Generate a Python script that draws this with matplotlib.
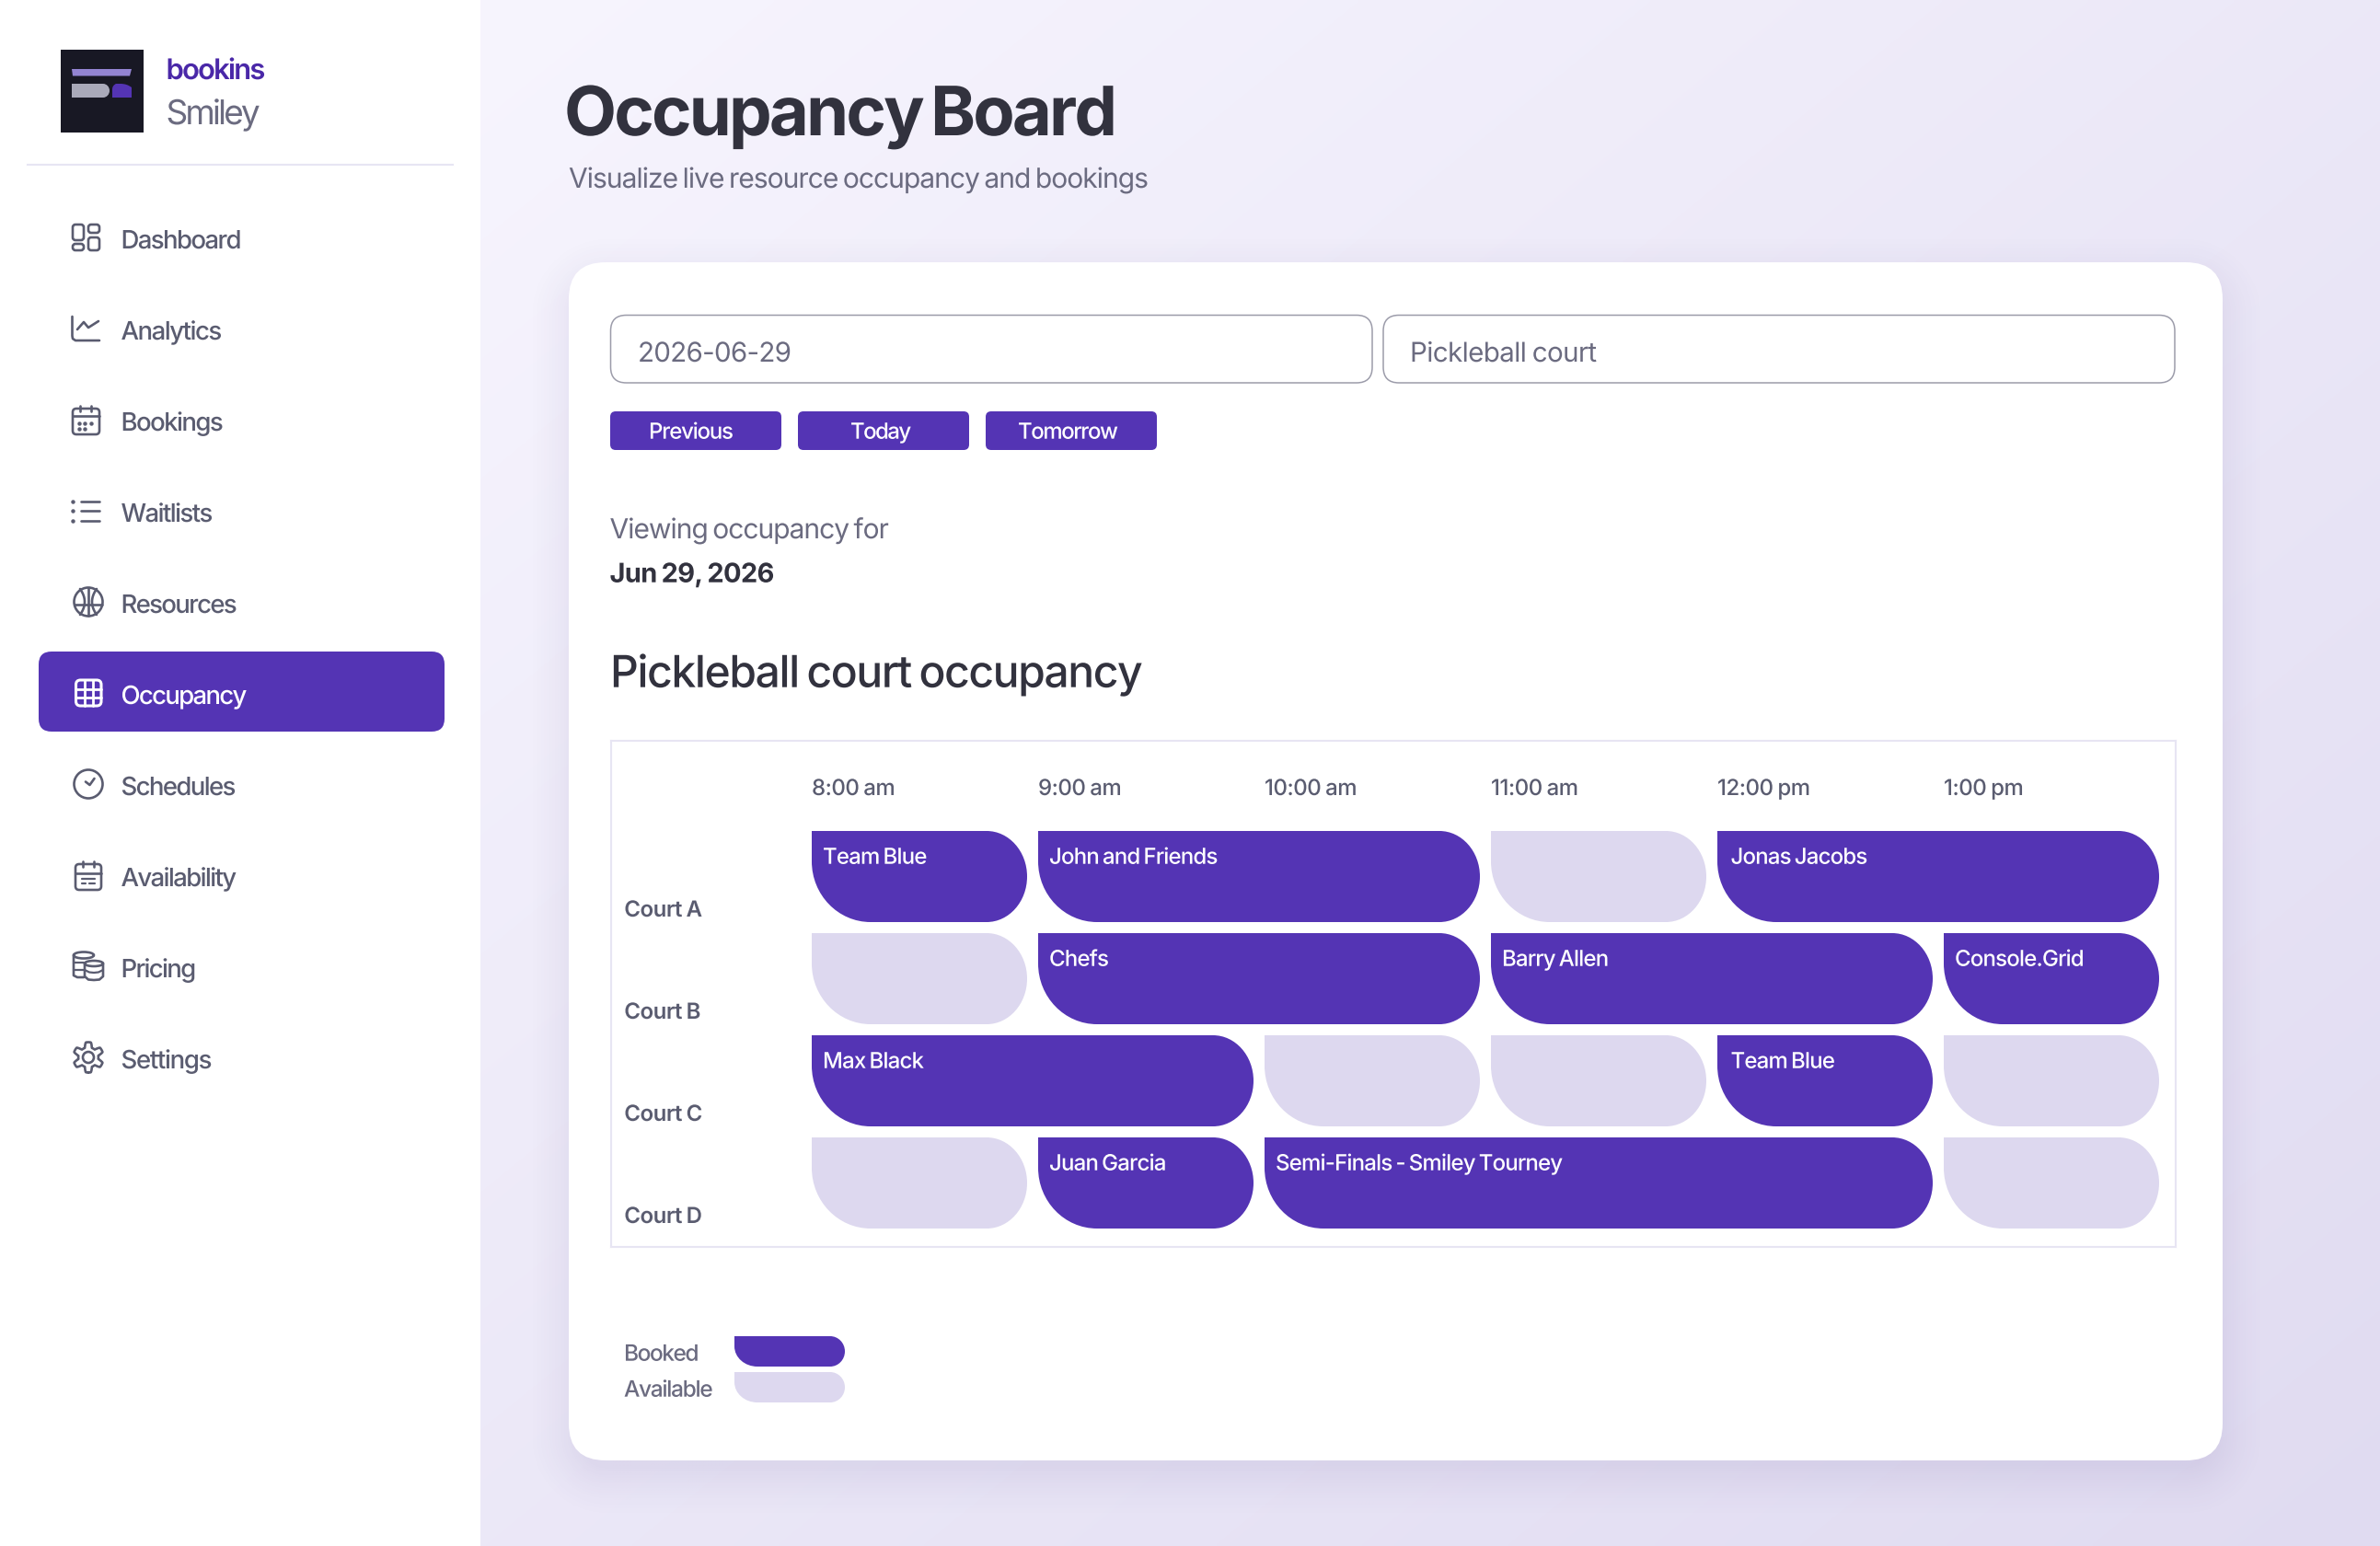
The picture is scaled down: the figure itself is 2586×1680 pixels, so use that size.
import matplotlib
matplotlib.use("Agg")
import matplotlib.pyplot as plt
import numpy as np
from matplotlib.patches import FancyBboxPatch, PathPatch, Circle, Ellipse, Rectangle, Polygon
from matplotlib.path import Path
from matplotlib.patheffects import AbstractPathEffect
from matplotlib.textpath import text_to_path
from matplotlib.transforms import IdentityTransform

# chart values
courts = ["Court A", "Court B", "Court C", "Court D"]
hours = [8, 9, 10, 11, 12, 13]
hour_labels = ["8:00 am", "9:00 am", "10:00 am", "11:00 am", "12:00 pm", "1:00 pm"]
slot_court = [0, 0, 0, 0,
              1, 1, 1, 1,
              2, 2, 2, 2, 2,
              3, 3, 3, 3]
slot_start = [8, 9, 11, 12,
              8, 9, 11, 13,
              8, 10, 11, 12, 13,
              8, 9, 10, 13]
slot_hours = [1, 2, 1, 2,
              1, 2, 2, 1,
              2, 1, 1, 1, 1,
              1, 1, 3, 1]
slot_names = ["Team Blue", "John and Friends", "", "Jonas Jacobs",
              "", "Chefs", "Barry Allen", "Console.Grid",
              "Max Black", "", "", "Team Blue", "",
              "", "Juan Garcia", "Semi-Finals - Smiley Tourney", ""]
menu_items = ["Dashboard", "Analytics", "Bookings", "Waitlists", "Resources",
              "Occupancy", "Schedules", "Availability", "Pricing", "Settings"]
menu_widths = [130, 109, 110, 99, 125, 136, 124, 125, 81, 98]
nav_buttons = ["Previous", "Today", "Tomorrow"]

W, H = 2586, 1680
PURPLE = "#5434B4"
LILAC = "#DDD8EF"
DARK = "#32323E"
GREY = "#6B6B80"
SLATE = "#5A5C70"
LINE = "#E7E5F3"

plt.rcParams["font.family"] = ["Inter", "DejaVu Sans"]

fig = plt.figure(figsize=(W / 100, H / 100), dpi=100)
renderer = fig.canvas.get_renderer()
bg = fig.add_axes([0, 0, 1, 1])
bg.set_xlim(0, W)
bg.set_ylim(H, 0)
bg.axis("off")


def steps(s):
    # a space closes up three times as much as a letter gap
    return np.cumsum([0] + [3 if c == " " else 1 for c in s[:-1]])


class Track(AbstractPathEffect):
    # letter-spacing: matplotlib has none and the source text is set very tight
    def __init__(self, t, track):
        self.track = track
        s = t.get_text()
        font = text_to_path._get_font(t.get_fontproperties())
        info, gmap, _ = text_to_path.get_glyphs_with_font(font, s)
        counts = [len(gmap[g[0]][0]) for g in info]
        self.index = np.repeat(steps(s), counts)

    def draw_path(self, renderer, gc, tpath, affine, rgbFace=None):
        v = affine.transform(tpath.vertices)
        if len(v) == len(self.index):
            v[:, 0] += self.track * self.index
        renderer.draw_path(gc, Path(v, tpath.codes), IdentityTransform(), rgbFace)


def tracking(s, px, weight, width):
    t = bg.text(0, 0, s, fontsize=px * 0.72, fontweight=weight)
    r = (width - t.get_window_extent(renderer).width) / steps(s)[-1]
    t.remove()
    return r


def put(x, y, s, px, color, weight=400, width=None):
    t = bg.text(x, y, s, fontsize=px * 0.72, color=color, fontweight=weight,
                ha="left", va="baseline", zorder=6)
    if width is not None:
        t.set_path_effects([Track(t, tracking(s, px, weight, width))])
    return t


def rrect(x0, y0, x1, y1, r, **kw):
    p = FancyBboxPatch((x0, y0), x1 - x0, y1 - y0,
                       boxstyle=f"round,pad=0,rounding_size={r}", **kw)
    bg.add_patch(p)
    return p


def pill(ax, x0, x1, y0, y1, rx, ry, lx, ly, color):
    # square top-left, full round right end, wide bottom-left corner
    k = 0.5523
    ym = y0 + ry
    verts = [(x0, y0), (x1 - rx, y0),
             (x1 - rx + k * rx, y0), (x1, ym - k * ry), (x1, ym),
             (x1, ym + k * ry), (x1 - rx + k * rx, y1), (x1 - rx, y1),
             (x0 + lx, y1),
             (x0 + lx - k * lx, y1), (x0, y1 - ly + k * ly), (x0, y1 - ly),
             (x0, y0)]
    codes = [Path.MOVETO, Path.LINETO,
             Path.CURVE4, Path.CURVE4, Path.CURVE4,
             Path.CURVE4, Path.CURVE4, Path.CURVE4,
             Path.LINETO,
             Path.CURVE4, Path.CURVE4, Path.CURVE4,
             Path.CLOSEPOLY]
    ax.add_patch(PathPatch(Path(verts, codes), facecolor=color, edgecolor="none", zorder=3))


# page background
yy, xx = np.mgrid[0:H:4, 0:W:4]
t = (0.5 * (xx - 522) / (W - 522) + 0.5 * yy / H).clip(0, 1)
c0 = np.array([247, 245, 254]) / 255
c1 = np.array([224, 219, 241]) / 255
grad = c0[None, None, :] * (1 - t[..., None]) + c1[None, None, :] * t[..., None]
bg.imshow(grad, extent=(0, W, H, 0), aspect="auto", zorder=0, interpolation="bilinear")

# card shadow
cx0, cy0, cx1, cy1 = 618, 285, 2415, 1587
qx = np.abs(xx - (cx0 + cx1) / 2) - (cx1 - cx0) / 2 + 40
qy = np.abs(yy - (cy0 + cy1) / 2 - 14) - (cy1 - cy0) / 2 + 40
d = np.hypot(qx.clip(0), qy.clip(0)) + np.minimum(np.maximum(qx, qy), 0) - 40
a = 0.08 * (1 - (d + 10) / 60).clip(0, 1) ** 1.6
shadow = np.dstack([np.full(a.shape, 60 / 255), np.full(a.shape, 40 / 255),
                    np.full(a.shape, 120 / 255), a])
bg.imshow(shadow, extent=(0, W, H, 0), aspect="auto", zorder=0.5, interpolation="bilinear")
bg.set_xlim(0, W)
bg.set_ylim(H, 0)

# sidebar
bg.add_patch(Rectangle((0, 0), 522, H, facecolor="white", edgecolor="none", zorder=1))
bg.plot([30, 492], [178.7, 178.7], color=LINE, lw=1.5, zorder=2)

# logo
bg.add_patch(Rectangle((66, 54), 90, 89.5, facecolor="#181824", edgecolor="none", zorder=2))
bg.add_patch(Polygon([(78, 75), (143, 75), (141, 82.5), (79, 82.5)], facecolor="#9384D2",
                     edgecolor="none", zorder=3))
pill(bg, 78, 119, 91, 106, 7, 7.5, 0.1, 0.1, "#A9A9B9")
purple_verts = [(122, 106), (122, 97), (122, 93), (126, 91), (131, 91), (138, 91), (143, 95),
                (143, 100), (143, 106), (122, 106)]
purple_codes = [Path.MOVETO, Path.LINETO, Path.CURVE3, Path.CURVE3, Path.LINETO, Path.CURVE3,
                Path.CURVE3, Path.LINETO, Path.LINETO, Path.CLOSEPOLY]
bg.add_patch(PathPatch(Path(purple_verts, purple_codes), facecolor=PURPLE, edgecolor="none", zorder=3))
put(180.5, 86, "bookins", 31, "#4A28A8", 600, width=108)
put(180.5, 135, "Smiley", 37, GREY, 400, width=102)

# active menu item
rrect(42, 708, 483, 795, 14, facecolor=PURPLE, edgecolor="none", zorder=2)
for i, (name, w) in enumerate(zip(menu_items, menu_widths)):
    col = "white" if name == "Occupancy" else SLATE
    put(131.5, 270 + 99 * i, name, 27.5, col, 500, width=w + 1)


# sidebar icons
def stroke(xs, ys, col=SLATE, lw=1.9):
    bg.plot(xs, ys, color=col, lw=lw, solid_capstyle="round", solid_joinstyle="round", zorder=6)


def box(x0, y0, x1, y1, r, col=SLATE, lw=1.9):
    rrect(x0, y0, x1, y1, r, facecolor="none", edgecolor=col, lw=lw, zorder=6)


def ring(x, y, r, col=SLATE, lw=1.9):
    bg.add_patch(Circle((x, y), r, facecolor="none", edgecolor=col, lw=lw, zorder=6))


def dots(xs, ys, col=SLATE, size=2.2):
    bg.plot(xs, ys, ls="none", marker="o", ms=size, color=col, mec="none", zorder=6)


# dashboard
box(79, 244, 91, 261, 3)
box(96, 244, 108, 253, 3)
box(79, 265, 91, 272, 3)
box(96, 258, 108, 272, 3)
# analytics
stroke([78.5, 78.5, 79, 82, 108], [344, 365, 368, 370, 370])
stroke([84, 91, 96, 107], [358, 350, 356, 349])
# bookings
box(79, 444, 108, 472, 4)
stroke([79, 108], [451.5, 451.5])
stroke([87, 87], [441, 447])
stroke([99, 99], [441, 447])
dots([86, 92, 99, 86, 92], [459.5, 459.5, 459.5, 465.5, 465.5], size=3.2)
# waitlists
dots([79, 79, 79], [544.5, 555, 565.5], size=3.2)
for y in [544.5, 555, 565.5]:
    stroke([88, 108], [y, y])
# resources
ring(96, 654, 15.5)
stroke([96, 96], [639, 669])
stroke([81, 111], [657, 657])
arc = np.linspace(-1, 1, 30)
stroke(87 + 5 * (1 - arc ** 2), 654 + 14 * arc)
stroke(105 - 5 * (1 - arc ** 2), 654 + 14 * arc)
# occupancy
box(82.5, 739, 110, 767, 5, col="white", lw=2.2)
for x in [91.5, 101]:
    stroke([x, x], [739, 767], col="white", lw=2)
for y in [748.5, 757.5]:
    stroke([82.5, 110], [y, y], col="white", lw=2)
# schedules
ring(96, 852, 15.5)
stroke([93, 97.5, 102.5], [849.5, 853, 846])
# availability
box(82, 939, 110, 967, 4)
stroke([82, 110], [948.5, 948.5])
stroke([89.5, 89.5], [936, 942])
stroke([102, 102], [936, 942])
stroke([89, 103], [954.5, 954.5], lw=1.6)
stroke([89, 93], [960, 960], lw=1.6)
stroke([97, 103], [960, 960], lw=1.6)
# pricing
bg.add_patch(Ellipse((91, 1038), 22, 7, facecolor="none", edgecolor=SLATE, lw=1.9, zorder=6))
stroke([80, 80, 84, 91], [1038, 1060, 1062, 1062])
stroke([80, 91], [1046, 1046], lw=1.6)
stroke([80, 91], [1054, 1054], lw=1.6)
bg.add_patch(Ellipse((102, 1047), 20, 6, facecolor="white", edgecolor=SLATE, lw=1.9, zorder=6))
stroke([92, 92, 96, 102, 108, 112, 112], [1047, 1061, 1064.5, 1065, 1064.5, 1061, 1047])
stroke([92, 97, 102, 107, 112], [1054, 1056.5, 1057, 1056.5, 1054], lw=1.6)
# settings
th = np.linspace(0, 2 * np.pi, 241)
gear = 13.7 + 2.8 * np.clip(1.9 * np.cos(6 * th), -1, 1)
stroke(96 + gear * np.sin(th), 1149 + gear * np.cos(th))
ring(96, 1149, 6)

# page heading
put(613, 147, "Occupancy Board", 74, DARK, 700, width=601)
put(618, 204, "Visualize live resource occupancy and bookings", 30, GREY, 400, width=632)

# card
rrect(cx0, cy0, cx1, cy1, 40, facecolor="white", edgecolor="none", zorder=2)

# filter inputs
rrect(663.5, 342.5, 1491, 416, 17, facecolor="white", edgecolor="#9C9CAA", lw=1.1, zorder=3)
rrect(1503, 342.5, 2363, 416, 17, facecolor="white", edgecolor="#9C9CAA", lw=1.1, zorder=3)
put(693, 393, "2026-06-29", 29.5, GREY, 400, width=167)
put(1532, 393, "Pickleball court", 29.5, GREY, 400, width=203)

# day buttons
for label, x0, x1, tx, w in zip(nav_buttons, [663, 867, 1071], [849, 1053, 1257],
                                [705, 924, 1106], [92, 66, 109]):
    rrect(x0, 447, x1, 489, 6, facecolor=PURPLE, edgecolor="none", zorder=3)
    put(tx, 476.7, label, 24, "white", 500, width=w)

put(662.5, 585, "Viewing occupancy for", 30, GREY, 400, width=304)
put(662.5, 632.7, "Jun 29, 2026", 29, DARK, 700, width=179)
put(663, 746.7, "Pickleball court occupancy", 48, DARK, 500, width=579)

# occupancy grid
gx0, gx1, gy0, gy1 = 664, 2363.5, 805, 1355
PITCH_X, PITCH_Y = 246.0, 111.0
ax = fig.add_axes([gx0 / W, 1 - gy1 / H, (gx1 - gx0) / W, (gy1 - gy0) / H])
ax.patch.set_alpha(0)
ax.set_xlim(8 + (gx0 - 882) / PITCH_X, 8 + (gx1 - 882) / PITCH_X)
ax.set_ylim((gy1 - 903) / PITCH_Y, (gy0 - 903) / PITCH_Y)
for s in ax.spines.values():
    s.set_color(LINE)
    s.set_linewidth(1.5)

ax.xaxis.tick_top()
ax.set_xticks(hours, hour_labels)
ax.tick_params(axis="x", length=0, pad=-(864 - gy0) * 0.72, labelsize=24 * 0.72, labelcolor=SLATE)
time_track = tracking("10:00 am", 24, 500, 100.5)
for lab in ax.get_xticklabels():
    lab.set_ha("left")
    lab.set_va("baseline")
    lab.set_fontweight(500)
    lab.set_path_effects([Track(lab, time_track)])

ax.set_yticks(np.arange(len(courts)) + 93 / PITCH_Y, courts)
ax.tick_params(axis="y", length=0, pad=-(678.3 - gx0) * 0.72, labelsize=24 * 0.72, labelcolor=SLATE)
court_track = tracking("Court A", 24, 600, 84.5)
for lab in ax.get_yticklabels():
    lab.set_ha("left")
    lab.set_va("baseline")
    lab.set_fontweight(600)
    lab.set_path_effects([Track(lab, court_track)])

booking_track = tracking("Semi-Finals - Smiley Tourney", 24, 500, 312)
GAP = 12 / PITCH_X
BAR_H = 99 / PITCH_Y
for row, start, span, name in zip(slot_court, slot_start, slot_hours, slot_names):
    pill(ax, start, start + span - GAP, row, row + BAR_H,
         44 / PITCH_X, BAR_H / 2, 64 / PITCH_X, 66 / PITCH_Y,
         PURPLE if name else LILAC)
    if name:
        inset = 14.5 if start == 12 else 12
        t = ax.text(start + inset / PITCH_X, row + 35.7 / PITCH_Y, name, color="white",
                    fontsize=24 * 0.72, fontweight=500, ha="left", va="baseline", zorder=4)
        t.set_path_effects([Track(t, booking_track)])

# legend
put(678, 1478.7, "Booked", 24.5, GREY, 500, width=81.5)
put(678, 1517.7, "Available", 24.5, GREY, 500, width=96.5)
pill(bg, 798, 918, 1452, 1485, 16, 16.5, 25, 22, PURPLE)
pill(bg, 798, 918, 1491, 1524, 16, 16.5, 25, 22, LILAC)

fig.savefig("out.png", dpi=100)
